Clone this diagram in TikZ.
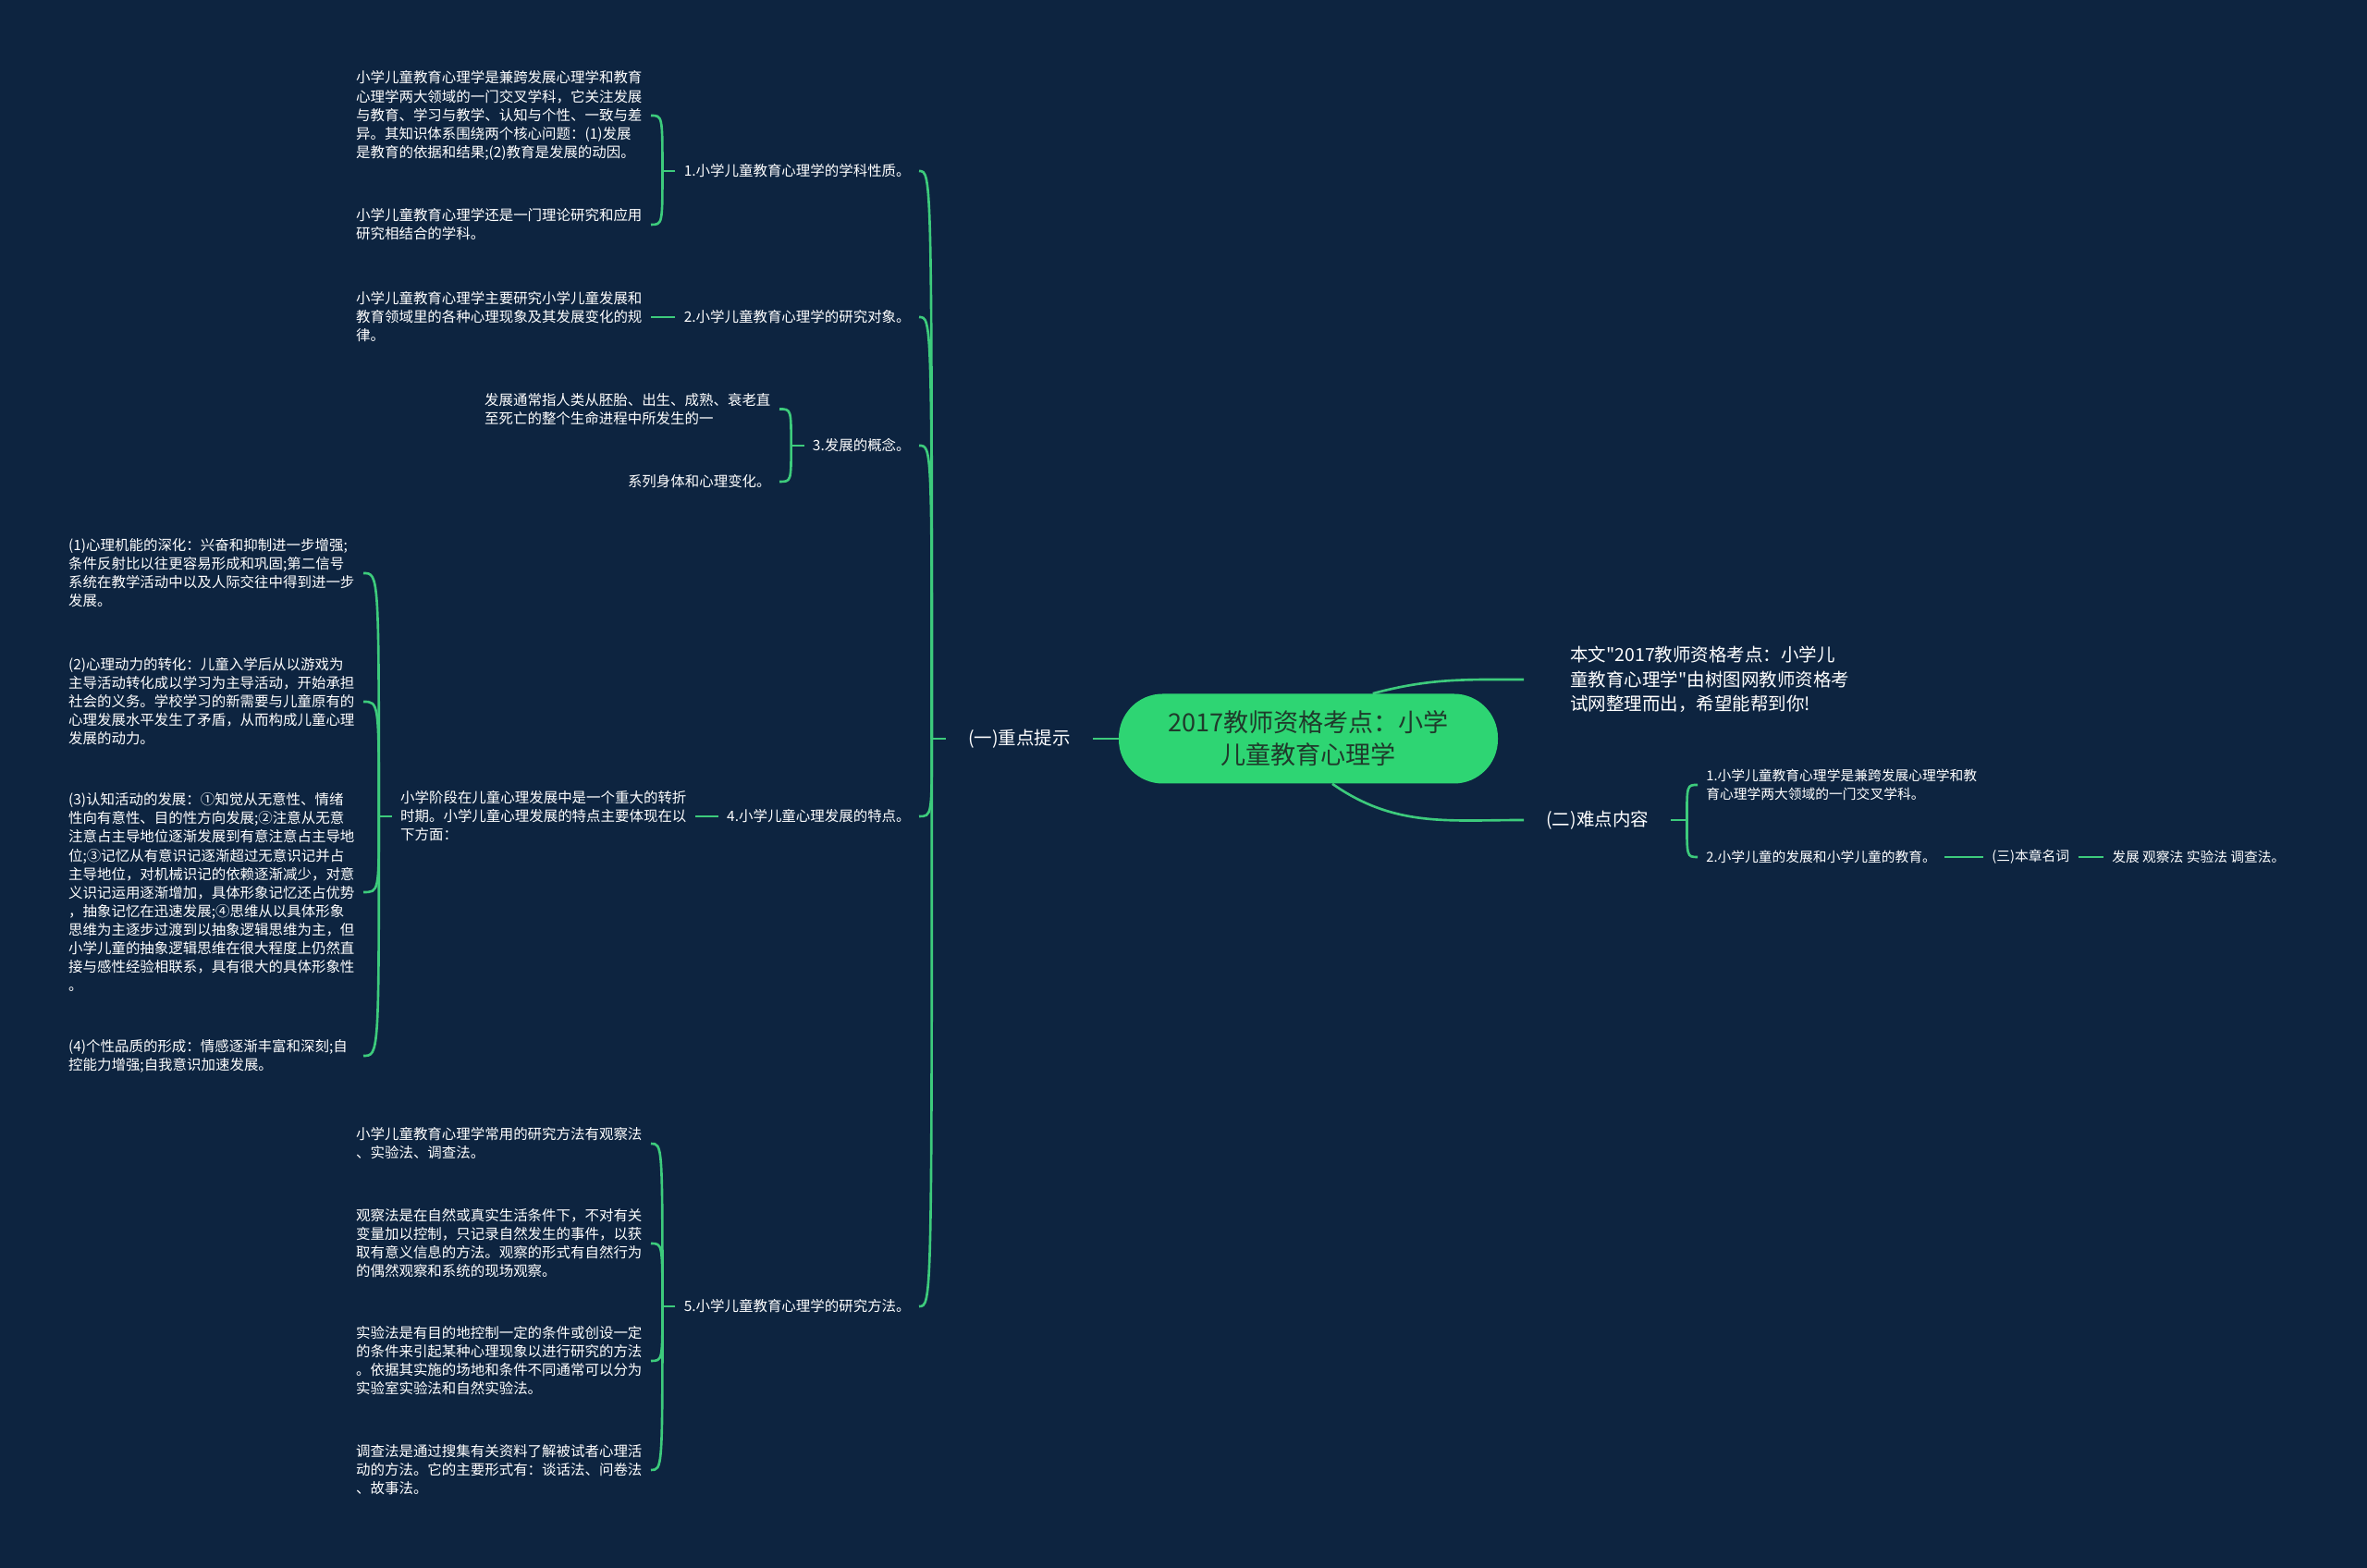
\documentclass[tikz,border=0pt]{standalone}
\usepackage{fontspec}
\setmainfont{Noto Sans CJK SC}[Ligatures=TeXOff]
\usepackage{tikz}
\usetikzlibrary{calc}
\definecolor{navy}{HTML}{0D2440}
\definecolor{branchgreen}{HTML}{3DCB7C}
\definecolor{coregreen}{HTML}{2ED573}
\definecolor{coreink}{HTML}{1F3A2B}
\newcommand{\leaffont}{\fontsize{8.8pt}{11.4pt}\selectfont}
\newcommand{\noteleaffont}{\fontsize{8.4pt}{11.4pt}\selectfont}
\newcommand{\topicfont}{\fontsize{11.1pt}{15.1pt}\selectfont}
\newcommand{\corefont}{\fontsize{15.4pt}{19.8pt}\selectfont}

\begin{document}
\begin{tikzpicture}[
    core/.style={fill=coregreen, text=coreink, rounded corners=0.95cm, minimum width=8.2cm, minimum height=1.94cm, align=center, font=\corefont},
    topic/.style={text=white, font=\topicfont, inner xsep=0.48cm, align=left},
    leaf/.style={text=white, font=\leaffont, inner xsep=0.18cm, align=left},
    block/.style={leaf, text width=6.19cm},
    link/.style={draw=branchgreen, line width=1.5pt}
]

\fill[navy] (0,0) rectangle (51.2,33.92);

\node[core] (core) at (28.30,17.94) {2017教师资格考点：小学\\儿童教育心理学};

\node[topic] (key) at (22.05,17.94) {(一)重点提示};
\node[topic, anchor=west] (hard) at (32.96,16.18) {(二)难点内容};
\node[topic, anchor=west, inner xsep=0.18cm] (intro) at (33.78,19.22) {本文"2017教师资格考点：小学儿\\童教育心理学"由树图网教师资格考\\试网整理而出，希望能帮到你!};

\coordinate (keyj) at ($(key.west)+(-0.3,0)$);
\coordinate (hardj) at ($(hard.east)+(0.34,0)$);

\node[leaf, anchor=east] (k1) at (19.88,30.22) {1.小学儿童教育心理学的学科性质。};
\node[leaf, anchor=east] (k2) at (19.88,27.06) {2.小学儿童教育心理学的研究对象。};
\node[leaf, anchor=east] (k3) at (19.88,24.28) {3.发展的概念。};
\node[leaf, anchor=east] (k4) at (19.88,16.26) {4.小学儿童心理发展的特点。};
\node[leaf, anchor=east] (k5) at (19.88,5.66) {5.小学儿童教育心理学的研究方法。};

\coordinate (k1j) at ($(k1.west)+(-0.28,0)$);
\coordinate (k3j) at ($(k3.west)+(-0.28,0)$);
\coordinate (k5j) at ($(k5.west)+(-0.28,0)$);

\node[block, anchor=east] (k1a) at (14.08,31.42) {小学儿童教育心理学是兼跨发展心理学和教育\\心理学两大领域的一门交叉学科，它关注发展\\与教育、学习与教学、认知与个性、一致与差\\异。其知识体系围绕两个核心问题：(1)发展\\是教育的依据和结果;(2)教育是发展的动因。};
\node[block, anchor=east] (k1b) at (14.08,29.06) {小学儿童教育心理学还是一门理论研究和应用\\研究相结合的学科。};

\node[block, anchor=east] (k2a) at (14.08,27.06) {小学儿童教育心理学主要研究小学儿童发展和\\教育领域里的各种心理现象及其发展变化的规\\律。};

\node[block, anchor=east] (k3a) at (16.86,25.07) {发展通常指人类从胚胎、出生、成熟、衰老直\\至死亡的整个生命进程中所发生的一};
\node[leaf, anchor=east] (k3b) at (16.86,23.50) {系列身体和心理变化。};

\node[block, anchor=east] (k4a) at (15.04,16.26) {小学阶段在儿童心理发展中是一个重大的转折\\时期。小学儿童心理发展的特点主要体现在以\\下方面：};
\coordinate (k4j) at ($(k4a.west)+(-0.28,0)$);

\node[block, anchor=east] (d1) at (7.86,21.52) {(1)心理机能的深化：兴奋和抑制进一步增强;\\条件反射比以往更容易形成和巩固;第二信号\\系统在教学活动中以及人际交往中得到进一步\\发展。};
\node[block, anchor=east] (d2) at (7.86,18.74) {(2)心理动力的转化：儿童入学后从以游戏为\\主导活动转化成以学习为主导活动，开始承担\\社会的义务。学校学习的新需要与儿童原有的\\心理发展水平发生了矛盾，从而构成儿童心理\\发展的动力。};
\node[block, anchor=east] (d3) at (7.86,14.62) {(3)认知活动的发展：①知觉从无意性、情绪\\性向有意性、目的性方向发展;②注意从无意\\注意占主导地位逐渐发展到有意注意占主导地\\位;③记忆从有意识记逐渐超过无意识记并占\\主导地位，对机械识记的依赖逐渐减少，对意\\义识记运用逐渐增加，具体形象记忆还占优势\\，抽象记忆在迅速发展;④思维从以具体形象\\思维为主逐步过渡到以抽象逻辑思维为主，但\\小学儿童的抽象逻辑思维在很大程度上仍然直\\接与感性经验相联系，具有很大的具体形象性\\。};
\node[block, anchor=east] (d4) at (7.86,11.08) {(4)个性品质的形成：情感逐渐丰富和深刻;自\\控能力增强;自我意识加速发展。};

\node[block, anchor=east] (k5a) at (14.08,9.18) {小学儿童教育心理学常用的研究方法有观察法\\、实验法、调查法。};
\node[block, anchor=east] (k5b) at (14.08,7.02) {观察法是在自然或真实生活条件下，不对有关\\变量加以控制，只记录自然发生的事件，以获\\取有意义信息的方法。观察的形式有自然行为\\的偶然观察和系统的现场观察。};
\node[block, anchor=east] (k5c) at (14.08,4.48) {实验法是有目的地控制一定的条件或创设一定\\的条件来引起某种心理现象以进行研究的方法\\。依据其实施的场地和条件不同通常可以分为\\实验室实验法和自然实验法。};
\node[block, anchor=east] (k5d) at (14.08,2.12) {调查法是通过搜集有关资料了解被试者心理活\\动的方法。它的主要形式有：谈话法、问卷法\\、故事法。};

\node[leaf, anchor=west, font=\noteleaffont] (n1) at (36.72,16.94) {1.小学儿童教育心理学是兼跨发展心理学和教\\育心理学两大领域的一门交叉学科。};
\node[leaf, anchor=west, font=\noteleaffont] (n2) at (36.72,15.38) {2.小学儿童的发展和小学儿童的教育。};
\node[leaf, anchor=west, font=\noteleaffont] (n3) at (42.90,15.38) {(三)本章名词};
\node[leaf, anchor=west, font=\noteleaffont] (n4) at (45.50,15.38) {发展 观察法 实验法 调查法。};

\draw[link] (key.east) -- (core.west);
\draw[link] (core.35) to[out=15,in=180] ([xshift=-0.82cm]intro.west);
\draw[link] (core.-62) to[out=-35,in=180] (hard.west);

\draw[link] (key.west) -- (keyj);
\draw[link] (keyj) .. controls (keyj |- k1.east) .. (k1.east);
\draw[link] (keyj) .. controls (keyj |- k2.east) .. (k2.east);
\draw[link] (keyj) .. controls (keyj |- k3.east) .. (k3.east);
\draw[link] (keyj) .. controls (keyj |- k4.east) .. (k4.east);
\draw[link] (keyj) .. controls (keyj |- k5.east) .. (k5.east);

\draw[link] (k1.west) -- (k1j);
\draw[link] (k1j) .. controls (k1j |- k1a.east) .. (k1a.east);
\draw[link] (k1j) .. controls (k1j |- k1b.east) .. (k1b.east);

\draw[link] (k2.west) -- (k2a.east);

\draw[link] (k3.west) -- (k3j);
\draw[link] (k3j) .. controls (k3j |- k3a.east) .. (k3a.east);
\draw[link] (k3j) .. controls (k3j |- k3b.east) .. (k3b.east);

\draw[link] (k4.west) -- (k4a.east);
\draw[link] (k4a.west) -- (k4j);
\draw[link] (k4j) .. controls (k4j |- d1.east) .. (d1.east);
\draw[link] (k4j) .. controls (k4j |- d2.east) .. (d2.east);
\draw[link] (k4j) .. controls (k4j |- d3.east) .. (d3.east);
\draw[link] (k4j) .. controls (k4j |- d4.east) .. (d4.east);

\draw[link] (k5.west) -- (k5j);
\draw[link] (k5j) .. controls (k5j |- k5a.east) .. (k5a.east);
\draw[link] (k5j) .. controls (k5j |- k5b.east) .. (k5b.east);
\draw[link] (k5j) .. controls (k5j |- k5c.east) .. (k5c.east);
\draw[link] (k5j) .. controls (k5j |- k5d.east) .. (k5d.east);

\draw[link] (hard.east) -- (hardj);
\draw[link] (hardj) .. controls (hardj |- n1.west) .. (n1.west);
\draw[link] (hardj) .. controls (hardj |- n2.west) .. (n2.west);
\draw[link] (n2.east) -- (n3.west);
\draw[link] (n3.east) -- (n4.west);

\end{tikzpicture}
\end{document}
